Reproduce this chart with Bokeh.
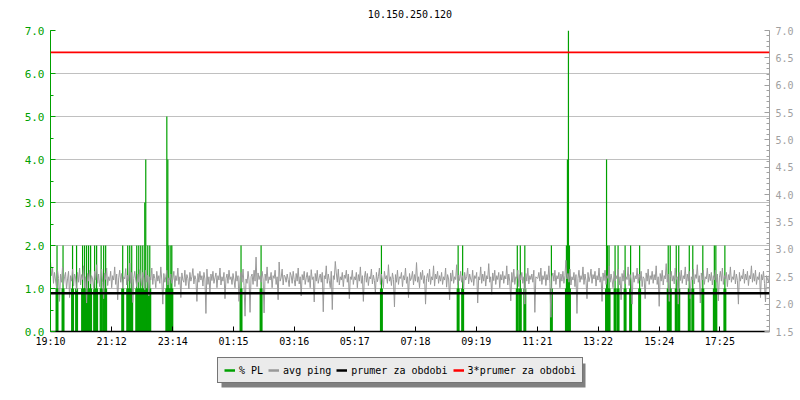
import numpy as np
from bokeh.plotting import figure
from bokeh.layouts import column
from bokeh.models import (Range1d, LinearAxis, SingleIntervalTicker, FixedTicker,
                          PrintfTickFormatter, Legend, LegendItem, BoxAnnotation,
                          ColumnDataSource, Span, Label)
from bokeh.embed import file_html
from bokeh.resources import INLINE

# ---------------- data ----------------
chart_title = "10.150.250.120"
tick_labels = ["19:10", "21:12", "23:14", "01:15", "03:16", "05:17",
               "07:18", "09:19", "11:21", "13:22", "15:24", "17:25"]
span_minutes = 1434          # length of the time window (minutes)
ping_step = 2                # minutes between avg ping samples

# avg ping (right axis), one value every 2 minutes from 19:10 (one row = 1 hour)
avg_ping = [
    2.78, 2.52, 2.66, 2.38, 2.58, 2.44, 2.30, 2.62, 2.47, 2.05, 2.55, 2.40, 2.68, 2.36, 2.50, 2.58, 2.28, 2.46, 2.60, 2.12, 2.52, 2.42, 2.64, 2.33, 2.55, 2.48, 2.25, 2.58, 2.40, 2.66,
    2.35, 2.54, 2.45, 2.70, 2.30, 2.50, 2.02, 2.56, 2.42, 2.62, 2.37, 2.52, 2.46, 2.27, 2.60, 2.44, 2.72, 2.38, 2.55, 2.32, 2.48, 2.64, 2.40, 2.10, 2.57, 2.45, 2.66, 2.34, 2.50, 2.43,
    2.60, 2.30, 2.52, 2.44, 2.68, 2.36, 2.55, 2.08, 2.48, 2.62, 2.40, 2.56, 2.29, 2.50, 2.46, 2.65, 2.35, 2.53, 2.42, 2.75, 2.38, 2.58, 2.03, 2.47, 2.60, 2.44, 2.32, 2.55, 2.40, 2.63,
    2.45, 2.34, 2.58, 2.48, 2.26, 2.62, 2.40, 2.53, 2.15, 2.50, 2.44, 2.66, 2.36, 2.55, 2.47, 2.30, 2.60, 2.42, 2.52, 2.38, 2.68, 2.44, 2.00, 2.56, 2.40, 2.50, 2.62, 2.35, 2.48, 2.44,
    2.55, 2.38, 2.46, 2.60, 2.32, 2.52, 2.43, 2.66, 2.36, 2.50, 2.12, 2.57, 2.44, 2.40, 2.62, 2.34, 2.54, 2.47, 2.28, 2.58, 2.42, 2.50, 2.65, 2.37, 2.52, 2.45, 2.05, 2.56, 2.40, 2.60,
    2.44, 2.52, 2.33, 2.58, 2.46, 1.83, 2.64, 2.36, 2.50, 2.20, 2.55, 2.43, 2.60, 2.38, 2.48, 2.57, 2.30, 2.52, 2.44, 2.66, 2.35, 2.50, 2.42, 2.58, 2.10, 2.47, 2.55, 2.38, 2.62, 2.45,
    2.50, 2.36, 2.56, 2.44, 2.30, 2.60, 2.42, 2.52, 2.05, 2.48, 2.58, 2.40, 2.64, 2.34, 1.78, 2.46, 2.38, 2.60, 2.44, 1.85, 2.50, 2.55, 2.36, 2.62, 2.42, 2.86, 2.32, 2.57, 2.45, 2.52,
    2.40, 2.60, 2.46, 1.84, 2.55, 2.43, 2.68, 2.38, 2.50, 2.44, 2.58, 2.30, 2.52, 2.47, 2.62, 2.36, 2.50, 2.08, 2.77, 2.42, 2.48, 2.64, 2.35, 2.53, 2.50, 2.40, 2.55, 2.45, 2.32, 2.58,
    2.52, 2.38, 2.60, 2.45, 2.33, 2.56, 2.42, 2.66, 2.37, 2.50, 2.15, 2.54, 2.44, 2.60, 2.36, 2.48, 2.58, 2.40, 2.52, 2.30, 2.63, 2.45, 2.50, 2.04, 2.56, 2.42, 2.62, 2.38, 2.48, 2.55,
    2.40, 2.58, 1.86, 2.52, 2.46, 2.70, 2.38, 2.55, 2.43, 2.30, 2.60, 1.90, 2.52, 2.45, 2.78, 2.57, 2.40, 2.64, 2.35, 2.50, 2.44, 2.58, 2.32, 2.53, 2.47, 2.62, 2.40, 2.55, 2.10, 2.50,
    2.45, 2.62, 2.36, 2.50, 2.44, 2.58, 2.30, 2.54, 2.42, 2.68, 2.38, 2.52, 2.05, 2.48, 2.60, 2.40, 2.56, 2.34, 2.50, 2.46, 2.64, 2.37, 2.53, 2.43, 2.20, 2.58, 2.41, 2.50, 2.66, 2.36,
    2.55, 2.44, 2.30, 2.60, 2.46, 2.52, 2.38, 2.72, 2.42, 2.50, 2.34, 2.57, 2.45, 1.95, 2.54, 2.40, 2.62, 2.36, 2.50, 2.47, 2.58, 2.32, 2.52, 2.44, 2.66, 2.38, 2.50, 2.12, 2.56, 2.43,
    2.48, 2.60, 2.35, 2.54, 2.42, 2.76, 2.40, 2.50, 2.30, 2.58, 2.45, 2.62, 2.38, 2.52, 2.00, 2.47, 2.56, 2.41, 2.64, 2.36, 2.50, 2.44, 2.70, 2.33, 2.55, 2.46, 2.60, 2.38, 2.52, 2.42,
    2.58, 2.36, 2.50, 2.44, 2.66, 2.31, 2.54, 2.46, 2.08, 2.57, 2.42, 2.62, 2.38, 2.50, 2.45, 2.72, 2.35, 2.53, 2.43, 2.60, 2.40, 2.52, 2.28, 2.58, 2.44, 2.50, 2.66, 2.37, 2.55, 2.46,
    2.40, 2.62, 2.34, 2.52, 2.47, 2.58, 2.02, 2.50, 2.44, 2.68, 2.38, 2.55, 2.42, 2.60, 2.33, 2.52, 2.46, 2.74, 2.40, 2.50, 2.18, 2.57, 2.43, 2.62, 2.36, 2.52, 2.45, 2.58, 2.30, 2.54,
    2.44, 2.60, 2.38, 2.52, 2.46, 2.70, 2.35, 2.55, 2.42, 2.06, 2.58, 2.40, 2.64, 2.36, 2.50, 2.47, 2.62, 2.32, 2.54, 2.44, 2.58, 2.38, 2.50, 2.00, 2.56, 2.42, 2.66, 2.37, 2.52, 2.45,
    2.55, 2.40, 2.62, 1.85, 2.50, 2.48, 2.47, 2.58, 2.42, 2.66, 2.36, 2.52, 2.45, 2.60, 2.34, 2.54, 2.44, 2.70, 2.38, 1.76, 2.50, 2.57, 2.42, 2.62, 2.36, 2.52, 2.46, 2.58, 2.30, 2.55,
    2.42, 2.60, 2.38, 2.52, 2.80, 2.46, 2.56, 2.40, 2.64, 2.35, 2.50, 2.44, 2.58, 2.32, 2.54, 1.83, 2.47, 2.62, 2.40, 2.52, 2.45, 2.68, 2.36, 2.55, 2.43, 2.10, 2.58, 2.41, 2.50, 2.64,
    2.38, 2.54, 2.46, 2.60, 2.33, 2.52, 2.44, 2.66, 2.40, 2.50, 2.05, 2.57, 2.43, 2.62, 2.36, 2.52, 2.47, 2.70, 2.40, 2.55, 2.44, 2.30, 2.60, 2.42, 2.52, 2.46, 2.64, 2.35, 2.50, 2.08,
    2.56, 2.42, 2.62, 2.37, 2.50, 2.45, 2.68, 2.34, 2.54, 2.44, 2.00, 2.58, 2.40, 2.52, 2.46, 2.66, 2.38, 2.55, 2.43, 2.60, 2.32, 2.50, 2.47, 2.10, 2.57, 2.42, 2.64, 2.36, 2.52, 2.45,
    2.60, 2.38, 2.54, 2.44, 2.70, 2.36, 2.50, 1.96, 2.56, 2.42, 2.62, 2.35, 2.52, 2.46, 2.74, 2.40, 2.55, 2.05, 2.48, 2.60, 2.42, 2.52, 2.37, 2.66, 2.45, 2.50, 2.00, 2.58, 2.43, 2.62,
    2.38, 2.52, 2.46, 2.68, 2.35, 2.55, 2.42, 2.60, 2.10, 2.50, 2.44, 2.64, 2.37, 2.54, 2.47, 2.72, 2.40, 2.52, 2.02, 2.57, 2.44, 2.62, 2.36, 2.50, 2.46, 2.66, 2.40, 2.55, 2.43, 2.58,
    2.35, 2.52, 2.44, 2.62, 2.40, 2.55, 2.06, 2.48, 2.60, 2.42, 2.66, 2.36, 2.52, 2.46, 2.58, 2.32, 2.54, 2.44, 2.68, 2.40, 2.50, 2.45, 2.62, 2.37, 2.55, 2.43, 2.00, 2.58, 2.42, 2.52,
    2.46, 2.64, 2.38, 2.55, 2.44, 2.60, 2.34, 2.52, 2.46, 2.70, 2.40, 2.56, 2.42, 2.62, 2.36, 2.50, 2.45, 2.58, 2.12, 2.54, 2.44, 2.60, 2.38, 2.04, 2.52, 2.46, 2.40, 2.55, 2.10, 2.48,
]

# packet loss events (left axis): minute offset from 19:10 and % PL
pl_minutes = [13, 25, 44, 52, 64, 68, 72, 76, 80, 88, 92, 101, 106, 110,
              144, 154, 158, 162, 172, 176, 180, 184, 188, 190, 194, 198,
              232, 234, 236, 240, 242, 380, 420, 660, 813, 822, 931, 937, 946,
              999, 1029, 1031, 1033, 1035, 1109, 1111, 1114, 1126, 1132, 1146,
              1157, 1175, 1232, 1236, 1248, 1253, 1274, 1281, 1301, 1324, 1327, 1345]
pl_values = [2, 2, 2, 2, 2, 2, 2, 2, 2, 2, 2, 2, 2, 2,
             2, 2, 2, 2, 2, 2, 2, 2, 3, 4, 2, 2,
             5, 4, 2, 2, 2, 2, 2, 2, 2, 2, 2, 2, 2,
             2, 2, 4, 7, 2, 4, 2, 2, 2, 2, 2,
             2, 2, 2, 2, 2, 2, 2, 2, 2, 2, 2, 2]

mean_ping = 2.2       # prumer za obdobi
mean3_ping = 6.6      # 3*prumer za obdobi

legend_labels = ["% PL", "avg ping", "prumer za obdobi", "3*prumer za obdobi"]

# ---------------- styling ----------------
FONT = "DejaVu Sans Mono"
GREEN = "#00a000"
GRAY = "#999999"
AXGRAY = "#a0a0a0"
GRID = "#c0c0c0"
RED = "#ff0000"


def to_min(s):
    h, m = map(int, s.split(":"))
    return h * 60 + m


t0 = to_min(tick_labels[0])
tick_pos = [(to_min(s) - t0) % 1440 for s in tick_labels]


def strip(height, y_end):
    """A blank strip whose frame uses screen pixels as data units."""
    f = figure(width=800, height=height, output_backend="svg", toolbar_location=None,
               title=None, x_range=Range1d(50, 769), y_range=Range1d(0, y_end),
               x_axis_location=None, y_axis_location=None,
               min_border_left=50, min_border_right=31, min_border_top=0,
               min_border_bottom=0)
    f.outline_line_color = None
    f.grid.visible = False
    f.background_fill_color = "white"
    f.border_fill_color = "white"
    return f


# ---------------- title strip ----------------
t = strip(22, 22)
t.add_layout(Label(x=409.5, y=8.7, text=chart_title, text_align="center",
                   text_baseline="middle", text_font=FONT,
                   text_font_size="10px", text_color="black"))

# ---------------- main chart ----------------
p = figure(width=800, height=333, output_backend="svg", toolbar_location=None,
           x_range=Range1d(0, span_minutes), y_range=Range1d(0, 7),
           title=None,
           min_border_left=50, min_border_right=31, min_border_top=8,
           min_border_bottom=24)
p.extra_y_ranges = {"ping": Range1d(1.5, 7.0)}
p.outline_line_color = None
p.background_fill_color = "white"
p.border_fill_color = "white"

# grid
p.xgrid.visible = False
p.ygrid.grid_line_color = GRID
p.ygrid.grid_line_width = 1

# left axis
ly = p.yaxis[0]
ly.ticker = SingleIntervalTicker(interval=1, num_minor_ticks=2)
ly.formatter = PrintfTickFormatter(format="%.1f")
ly.axis_line_color = GREEN
ly.major_tick_line_color = GREEN
ly.minor_tick_line_color = GREEN
ly.major_label_text_color = GREEN
ly.major_label_text_font = FONT
ly.major_label_text_font_size = "11px"
ly.major_tick_in = 5
ly.major_tick_out = 0
ly.minor_tick_in = 3
ly.minor_tick_out = 0
ly.major_label_standoff = 6

# right axis
ry = LinearAxis(y_range_name="ping",
                ticker=SingleIntervalTicker(interval=0.5, num_minor_ticks=5),
                formatter=PrintfTickFormatter(format="%.1f"))
ry.axis_line_color = AXGRAY
ry.major_tick_line_color = AXGRAY
ry.minor_tick_line_color = AXGRAY
ry.major_label_text_color = AXGRAY
ry.major_label_text_font = FONT
ry.major_label_text_font_size = "10px"
ry.major_tick_in = 5
ry.major_tick_out = 0
ry.minor_tick_in = 3
ry.minor_tick_out = 0
ry.major_label_standoff = 6
p.add_layout(ry, "right")

# bottom axis
bx = p.xaxis[0]
bx.ticker = FixedTicker(ticks=tick_pos, minor_ticks=[])
bx.major_label_overrides = {pos: lab for pos, lab in zip(tick_pos, tick_labels)}
bx.axis_line_color = "black"
bx.axis_line_width = 1.5
bx.major_tick_line_color = "black"
bx.major_tick_in = 5
bx.major_tick_out = 0
bx.major_label_text_font = FONT
bx.major_label_text_font_size = "10px"
bx.major_label_text_color = "black"
bx.major_label_standoff = 4

# packet loss
pl_src = ColumnDataSource(dict(
    x=pl_minutes,
    zero=[0] * len(pl_values),
    v=pl_values,
    base=[min(v, 1.0) for v in pl_values],
))
p.segment(x0="x", y0="zero", x1="x", y1="v", source=pl_src,
          line_color=GREEN, line_width=1.2)
p.segment(x0="x", y0="zero", x1="x", y1="base", source=pl_src,
          line_color=GREEN, line_width=3)

# avg ping
t_ping = np.arange(len(avg_ping)) * ping_step
p.line(t_ping, avg_ping, y_range_name="ping", line_color=GRAY, line_width=1)

# mean lines
p.add_layout(Span(location=mean_ping, dimension="width", y_range_name="ping",
                  line_color="black", line_width=2.5))
p.add_layout(Span(location=mean3_ping, dimension="width", y_range_name="ping",
                  line_color=RED, line_width=1.6))

# ---------------- legend strip ----------------
q = strip(45, 45)
sw_colors = [GREEN, GRAY, "black", RED]
swatches = [q.line([np.nan], [np.nan], line_color=c, line_width=2.5) for c in sw_colors]

q.add_layout(BoxAnnotation(left=221, right=585, bottom=13, top=37,
                           fill_color="#808080", fill_alpha=1.0, line_color=None))

legend = Legend(items=[LegendItem(label=lab, renderers=[r])
                       for lab, r in zip(legend_labels, swatches)],
                location=(167, 17), orientation="horizontal",
                glyph_width=11, glyph_height=12, label_height=12, label_width=0,
                label_standoff=4, spacing=5, padding=6, margin=0,
                background_fill_color="#ebebeb", background_fill_alpha=1.0,
                border_line_color="black", border_line_width=1,
                label_text_font=FONT, label_text_font_size="10px",
                label_text_color="black")
q.add_layout(legend)

layout = column(t, p, q, spacing=0)
open("out.html", "w").write(file_html(layout, INLINE))
